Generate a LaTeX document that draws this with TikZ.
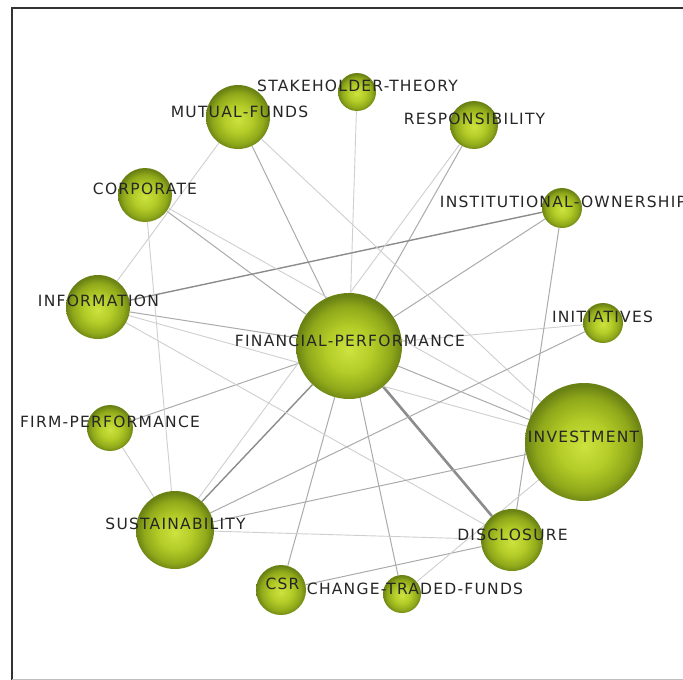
\documentclass[tikz,border=0pt]{standalone}
\usepackage{fontspec}
\newfontfamily\lblfont{DejaVu Sans}[LetterSpace=8.0]
\definecolor{sphhi}{HTML}{CDE33F}
\definecolor{sphmid}{HTML}{B3CC27}
\definecolor{sphlo}{HTML}{8FA81A}
\definecolor{sphrim}{HTML}{6A8214}
\definecolor{txt}{HTML}{262626}
\definecolor{eLight}{HTML}{CFCFCF}
\definecolor{eMed}{HTML}{ABABAB}
\definecolor{eDark}{HTML}{8C8C8C}
\pgfdeclareradialshading{sphere}{\pgfpoint{0bp}{-2bp}}{color(0bp)=(sphhi); color(11bp)=(sphmid); color(20bp)=(sphlo); color(25bp)=(sphrim); color(50bp)=(sphrim)}
\pgfdeclarelayer{paper}
\pgfdeclarelayer{edges}
\pgfsetlayers{paper,edges,main}
\tikzset{
  ball/.style={circle, inner sep=0pt, draw=none, shading=sphere, minimum size=#1},
  lbl/.style={font=\lblfont\fontsize{15.5}{15.5}\selectfont, text=txt, inner sep=0pt},
  eL/.style={draw=eLight, line width=0.9pt},
  eM/.style={draw=eMed, line width=1pt},
  eD/.style={draw=eDark, line width=1.4pt},
  eT/.style={draw=eDark, line width=2.6pt},
}
\begin{document}
\begin{tikzpicture}[x=1pt, y=-1pt]
\useasboundingbox (0,0) rectangle (683,680);
\begin{pgfonlayer}{paper}
\fill[white] (0,0) rectangle (683,680);
\end{pgfonlayer}
\clip (0,0) rectangle (683,680);
% frame
\draw[line width=2pt, black!80] (683,8) -- (12,8) -- (12,680);
\draw[line width=1pt, black!25] (12,679.5) -- (683,679.5);
% keyword spheres
\node[ball=38pt] (stake) at (357,92) {};
\node[ball=64pt] (mf) at (238,117) {};
\node[ball=48pt] (resp) at (474,125) {};
\node[ball=54pt] (corp) at (145,195) {};
\node[ball=40pt] (io) at (562,208) {};
\node[ball=64pt] (info) at (98,307) {};
\node[ball=106pt] (fp) at (349,346) {};
\node[ball=40pt] (init) at (603,323) {};
\node[ball=46pt] (firmp) at (110,428) {};
\node[ball=118pt] (inv) at (584,442) {};
\node[ball=78pt] (sus) at (175,530) {};
\node[ball=62pt] (disc) at (512,540) {};
\node[ball=50pt] (csr) at (281,590) {};
\node[ball=38pt] (ctf) at (402,594) {};
% co-occurrence links
\begin{pgfonlayer}{edges}
\draw[eL] (fp) -- (stake);
\draw[eM] (fp) -- (mf);
\draw[eM] (fp) -- (resp);
\draw[eM] (fp) -- (corp);
\draw[eM] (fp) -- (io);
\draw[eM] (fp) -- (info);
\draw[eL] (fp) -- (init);
\draw[eM] (fp) -- (inv);
\draw[eT] (fp) -- (disc);
\draw[eM] (fp) -- (ctf);
\draw[eM] (fp) -- (csr);
\draw[eD] (fp) -- (sus);
\draw[eM] (fp) -- (firmp);
\draw[eD] (info) -- (io);
\draw[eL] (info) -- (inv);
\draw[eL] (info) -- (disc);
\draw[eL] (mf) -- (info);
\draw[eL] (mf) -- (inv);
\draw[eL] (corp) -- (sus);
\draw[eL] (corp) -- (inv);
\draw[eL] (firmp) -- (sus);
\draw[eL] (resp) -- (sus);
\draw[eM] (sus) -- (init);
\draw[eM] (sus) -- (inv);
\draw[eL] (sus) -- (disc);
\draw[eM] (io) -- (disc);
\draw[eM] (csr) -- (disc);
\draw[eL] (inv) -- (ctf);
\end{pgfonlayer}
% labels
\node[lbl] (t-stake) at (357.5,86) {STAKEHOLDER-THEORY};
\node[lbl] (t-mf) at (239.5,112) {MUTUAL-FUNDS};
\node[lbl] (t-resp) at (474.5,119) {RESPONSIBILITY};
\node[lbl] (t-corp) at (145,189) {CORPORATE};
\node[lbl] (t-io) at (563,202) {INSTITUTIONAL-OWNERSHIP};
\node[lbl] (t-info) at (98.5,301) {INFORMATION};
\node[lbl] (t-fp) at (350,341) {FINANCIAL-PERFORMANCE};
\node[lbl] (t-init) at (602.5,317) {INITIATIVES};
\node[lbl] (t-firmp) at (110,422) {FIRM-PERFORMANCE};
\node[lbl] (t-inv) at (583.5,437) {INVESTMENT};
\node[lbl] (t-sus) at (175.5,524) {SUSTAINABILITY};
\node[lbl] (t-disc) at (512.5,535) {DISCLOSURE};
\node[lbl] (t-csr) at (282.5,584) {CSR};
\node[lbl] (t-ctf) at (415,589) {CHANGE-TRADED-FUNDS};
\end{tikzpicture}
\end{document}
